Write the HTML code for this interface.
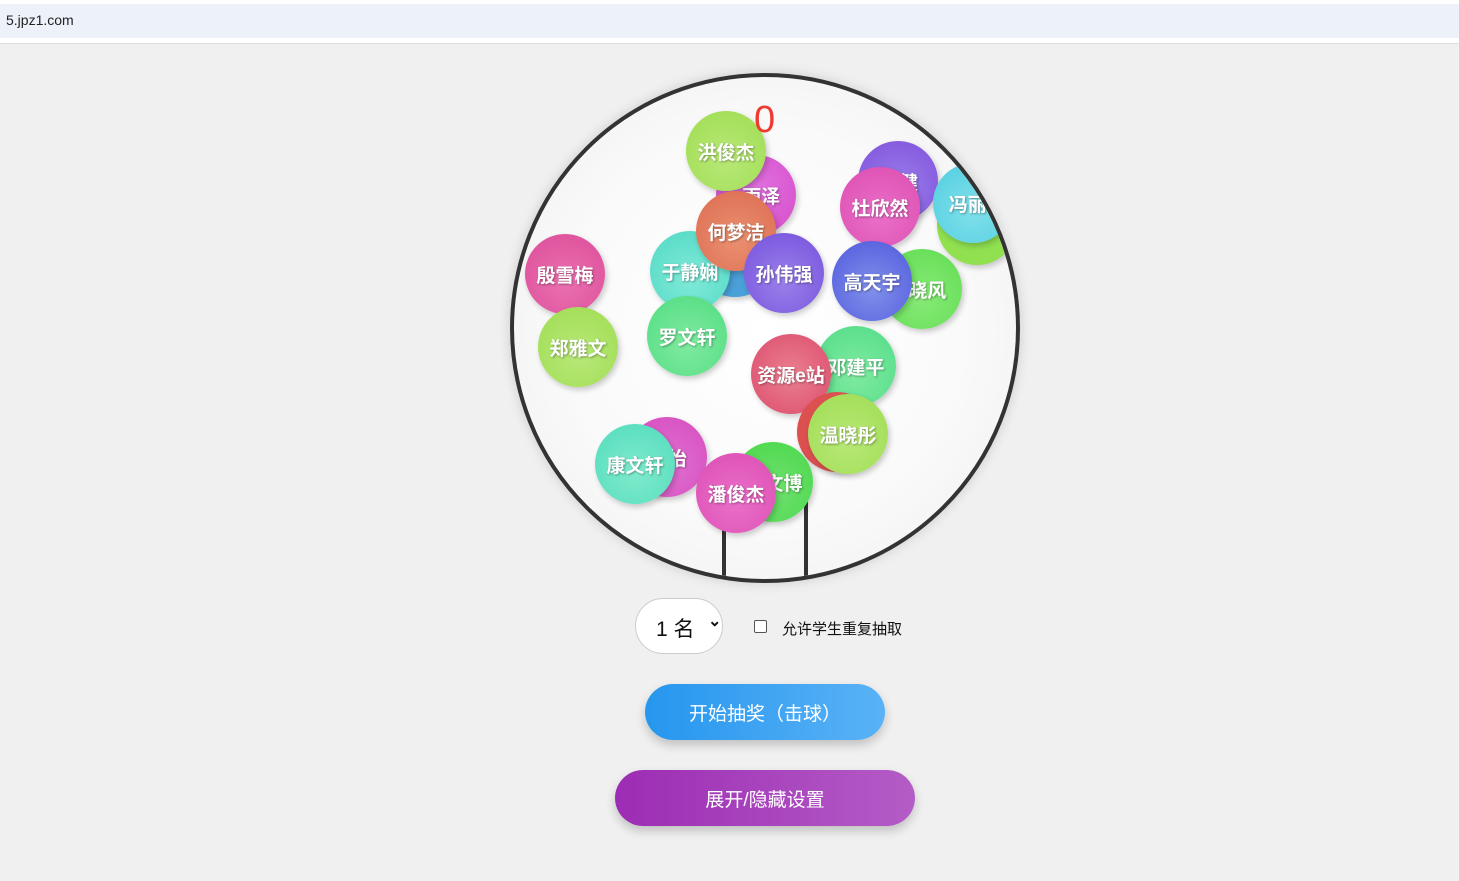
<!DOCTYPE html>
<html><head><meta charset="utf-8"><style>
body{margin:0;width:1459px;height:881px;background:#f0f0f0;position:relative;overflow:hidden;font-family:"Liberation Sans","Noto Sans CJK SC",sans-serif}
.top{position:absolute;left:0;top:0;width:1459px;height:43px;background:#fff;border-bottom:1px solid #ddd}
.bar{position:absolute;left:0;top:4px;width:1459px;height:34px;background:#edf1f9}
.url{position:absolute;left:6px;top:12px;font-size:14px;color:#222}
.glob{position:absolute;left:510px;top:73px;width:502px;height:502px;border:4px solid #333;border-radius:50%;overflow:hidden;background:radial-gradient(circle at 50% 50%,#fff 0,#fafafa 55%,#eee 100%);box-shadow:0 0 12px rgba(0,0,0,.15)}
.b{position:absolute;width:80px;height:80px;border-radius:50%;color:#fff;font-weight:bold;font-size:19px;display:flex;align-items:center;justify-content:center;white-space:nowrap;text-shadow:1px 1px 2px rgba(0,0,0,.35);box-shadow:2px 3px 6px rgba(0,0,0,.2);overflow:hidden}
.chute{position:absolute;left:208px;top:425px;width:78px;height:74px;border:4px solid #333}
.num{position:absolute;left:240px;top:22px;color:#f03a30;font-size:38px}
.sel{position:absolute;left:635px;top:598px;width:86px;height:54px;border:1px solid #ccc;border-radius:28px;background:#fff;font-size:21px;color:#111}
.chk{position:absolute;left:754px;top:620px;width:11px;height:11px;border:1px solid #555;border-radius:2px;background:#fff}
.lbl{position:absolute;left:782px;top:618px;font-size:15px;color:#111}
.btn{position:absolute;color:#fff;font-size:19px;display:flex;align-items:center;justify-content:center;border-radius:28px;box-shadow:0 5px 10px rgba(0,0,0,.2)}
</style></head><body>
<div class="top"><div class="bar"></div><div class="url">5.jpz1.com</div></div>
<div class="glob">
<div class="chute"></div>
<div class="b" style="left:202px;top:78px;background:radial-gradient(circle at 50% 40%,#e070e0,#d64cc8)">&nbsp;&nbsp;雨泽</div>
<div class="b" style="left:172px;top:34px;background:radial-gradient(circle at 50% 60%,#b8e878,#9edc50)">洪俊杰</div>
<div class="b" style="left:181px;top:140px;background:#4aa0d8"></div>
<div class="b" style="left:136px;top:154px;background:radial-gradient(circle at 50% 60%,#80ead8,#4fd8c4)">于静娴</div>
<div class="b" style="left:182px;top:114px;background:radial-gradient(circle at 50% 60%,#ea9070,#dc6a50)">何梦洁</div>
<div class="b" style="left:230px;top:156px;background:radial-gradient(circle at 50% 60%,#9a80ea,#7450dc)">孙伟强</div>
<div class="b" style="left:11px;top:157px;background:radial-gradient(circle at 50% 60%,#ea70b0,#dc4c98)">殷雪梅</div>
<div class="b" style="left:24px;top:230px;background:radial-gradient(circle at 50% 60%,#b8e878,#9edc50)">郑雅文</div>
<div class="b" style="left:133px;top:219px;background:radial-gradient(circle at 50% 60%,#80eaa0,#50dc80)">罗文轩</div>
<div class="b" style="left:344px;top:64px;background:radial-gradient(circle at 50% 60%,#9a80ea,#8050dc)">&nbsp;&nbsp;&nbsp;&nbsp;健</div>
<div class="b" style="left:326px;top:90px;background:radial-gradient(circle at 50% 60%,#ea70c8,#dc4cb0)">杜欣然</div>
<div class="b" style="left:423px;top:108px;background:#90e050"></div>
<div class="b" style="left:419px;top:86px;background:radial-gradient(circle at 50% 60%,#80e0ea,#4fcce0)">冯丽&nbsp;&nbsp;</div>
<div class="b" style="left:368px;top:172px;background:radial-gradient(circle at 50% 60%,#88ea78,#60dc50)">&nbsp;&nbsp;晓风</div>
<div class="b" style="left:318px;top:164px;background:radial-gradient(circle at 50% 60%,#8090ea,#5058dc)">高天宇</div>
<div class="b" style="left:302px;top:249px;background:radial-gradient(circle at 50% 60%,#80eaa0,#50dc88)">邓建平</div>
<div class="b" style="left:237px;top:257px;background:radial-gradient(circle at 50% 50%,#ea8090,#dc4c6c)">资源e站</div>
<div class="b" style="left:283px;top:315px;background:#dc5050"></div>
<div class="b" style="left:294px;top:317px;background:radial-gradient(circle at 50% 60%,#b8e878,#9edc50)">温晓彤</div>
<div class="b" style="left:113px;top:340px;background:radial-gradient(circle at 50% 60%,#e070d0,#d64cc0)">&nbsp;&nbsp;&nbsp;&nbsp;怡</div>
<div class="b" style="left:81px;top:347px;background:radial-gradient(circle at 50% 60%,#80eacc,#50dcbc)">康文轩</div>
<div class="b" style="left:219px;top:365px;background:radial-gradient(circle at 50% 60%,#70e070,#48d848)">&nbsp;&nbsp;&nbsp;&nbsp;文博</div>
<div class="b" style="left:182px;top:376px;background:radial-gradient(circle at 50% 60%,#ea70c8,#dc4cb4)">潘俊杰</div>
<div class="num">0</div>
</div>
<div class="sel"><span style="position:absolute;left:20px;top:14px">1 名</span><span style="position:absolute;left:72px;top:12px;font-size:16px;font-weight:bold">&#8964;</span></div>
<div class="chk"></div>
<div class="lbl">允许学生重复抽取</div>
<div class="btn" style="left:645px;top:684px;width:240px;height:56px;background:linear-gradient(90deg,#2696ee,#5ab2f6)">开始抽奖（击球）</div>
<div class="btn" style="left:615px;top:770px;width:300px;height:56px;background:linear-gradient(90deg,#9c2cb4,#b45cc6)">展开/隐藏设置</div>
</body></html>
